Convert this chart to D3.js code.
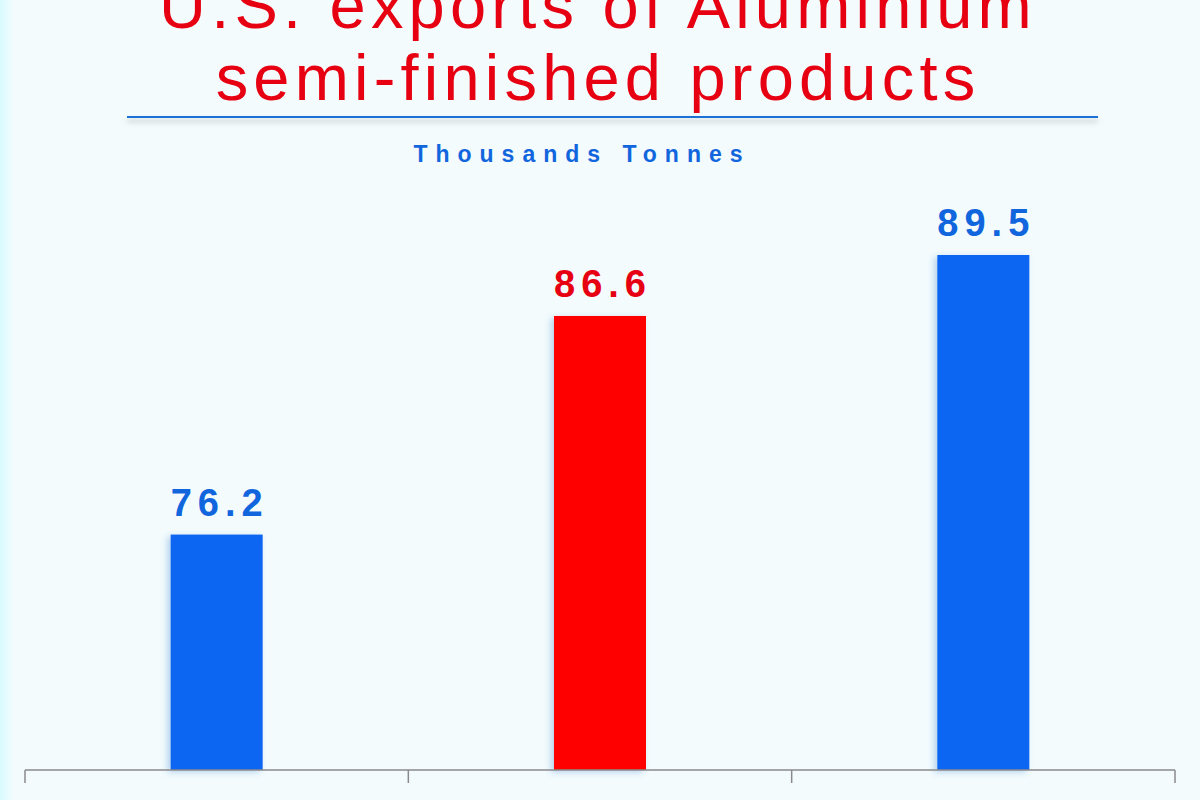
<!DOCTYPE html>
<html>
<head>
<meta charset="utf-8">
<script src="https://cdn.jsdelivr.net/npm/d3@7"></script>
<style>
  html, body { margin: 0; padding: 0; }
  body { width: 1200px; height: 800px; overflow: hidden; background: #f3fbfd; }
  svg { display: block; font-family: "Liberation Sans", Arial, sans-serif; }
</style>
</head>
<body>
<svg></svg>
<script>
const categories = ['Jan 2017', 'Jan 2018', 'Jan 2019'];
const values = [76.2, 86.6, 89.5];
const barColors = ['#0a66f2', '#ff0000', '#0a66f2'];
const titleLines = ['U.S. exports of Aluminium', 'semi-finished products'];
const unitLabel = 'Thousands Tonnes';

const width = 1200;
const height = 800;

const svg = d3.select('svg')
  .attr('width', width)
  .attr('height', height);

const defs = svg.append('defs');
const edge = defs.append('linearGradient').attr('id', 'edge');
edge.append('stop').attr('offset', '0').attr('stop-color', '#d8fbff');
edge.append('stop').attr('offset', '1').attr('stop-color', '#f3fbfd');

const shadow = defs.append('filter').attr('id', 'shadow')
  .attr('x', '-20%').attr('y', '-10%').attr('width', '140%').attr('height', '130%');
shadow.append('feDropShadow')
  .attr('dx', -3).attr('dy', 2).attr('stdDeviation', 3)
  .attr('flood-color', '#3a7fd0').attr('flood-opacity', 0.35);

const lineShadow = defs.append('filter').attr('id', 'lineShadow')
  .attr('filterUnits', 'userSpaceOnUse')
  .attr('x', 100).attr('y', 100).attr('width', 1020).attr('height', 40);
lineShadow.append('feDropShadow')
  .attr('dx', 0).attr('dy', 4).attr('stdDeviation', 2.5)
  .attr('flood-color', '#999').attr('flood-opacity', 0.6);

svg.append('rect').attr('width', width).attr('height', height).attr('fill', '#f3fbfd');
svg.append('rect').attr('width', 14).attr('height', height).attr('fill', 'url(#edge)');

// title
svg.selectAll('.title')
  .data(titleLines)
  .enter().append('text')
  .attr('class', 'title')
  .attr('x', 598)
  .attr('y', (d, i) => 28 + i * 72)
  .attr('text-anchor', 'middle')
  .attr('fill', '#e60012')
  .style('font-size', '65px')
  .style('letter-spacing', '5.2px')
  .text(d => d);

svg.append('rect')
  .attr('x', 127).attr('width', 971)
  .attr('y', 116).attr('height', 2)
  .attr('fill', '#1f6fd6')
  .attr('filter', 'url(#lineShadow)');

svg.append('text')
  .attr('x', 582)
  .attr('y', 162)
  .attr('text-anchor', 'middle')
  .attr('fill', '#1166dd')
  .style('font-size', '23px')
  .style('font-weight', 'bold')
  .style('letter-spacing', '8px')
  .text(unitLabel);

// scales
const x = d3.scaleBand()
  .domain(categories)
  .range([25, 1175])
  .padding(0);

const y = d3.scaleLinear()
  .domain([65, 89.5])
  .range([770, 255]);

const barW = x.bandwidth() * 0.24;

svg.selectAll('.bar')
  .data(values)
  .enter().append('rect')
  .attr('class', 'bar')
  .attr('x', (d, i) => x(categories[i]) + x.bandwidth() / 2 - barW / 2)
  .attr('y', d => y(d))
  .attr('width', barW)
  .attr('height', d => y.range()[0] - y(d))
  .attr('fill', (d, i) => barColors[i])
  .attr('filter', 'url(#shadow)');

svg.selectAll('.value')
  .data(values)
  .enter().append('text')
  .attr('class', 'value')
  .attr('x', (d, i) => x(categories[i]) + x.bandwidth() / 2 + 3)
  .attr('y', d => y(d) - 19)
  .attr('text-anchor', 'middle')
  .attr('fill', (d, i) => i === 1 ? '#e60012' : '#1166dd')
  .style('font-size', '38px')
  .style('font-weight', 'bold')
  .style('letter-spacing', '6px')
  .text(d => d.toFixed(1));

// axis
const axis = svg.append('g')
  .attr('transform', 'translate(0,770)');

axis.append('line')
  .attr('x1', 25).attr('x2', 1175)
  .attr('stroke', '#8a8a8a').attr('stroke-width', 1.5);

const tickPos = categories.map(c => x(c)).concat([x.range()[1]]);
axis.selectAll('.tick')
  .data(tickPos)
  .enter().append('line')
  .attr('x1', d => d).attr('x2', d => d)
  .attr('y1', 0).attr('y2', 13)
  .attr('stroke', '#8a8a8a').attr('stroke-width', 1.5);

axis.selectAll('.cat')
  .data(categories)
  .enter().append('text')
  .attr('class', 'cat')
  .attr('x', d => x(d) + x.bandwidth() / 2)
  .attr('y', 50)
  .attr('text-anchor', 'middle')
  .attr('fill', '#bfe3c8')
  .style('font-size', '30px')
  .style('font-weight', 'bold')
  .style('letter-spacing', '4px')
  .text(d => d);
</script>
</body>
</html>
